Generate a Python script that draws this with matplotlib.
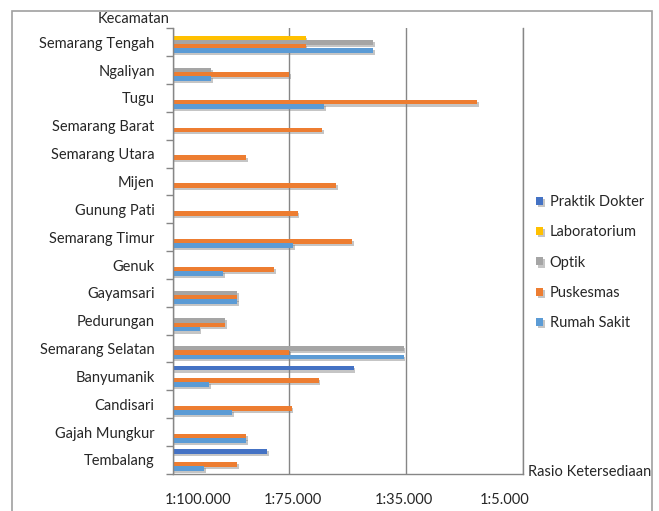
import numpy as np
import matplotlib
matplotlib.use("Agg")
import matplotlib.pyplot as plt
import matplotlib.patheffects as pe
import matplotlib.transforms as mtransforms
from matplotlib.patches import Rectangle

plt.rcParams['font.family'] = ['Lato', 'DejaVu Sans']

# categories, top to bottom
kecamatan = ['Semarang Tengah', 'Ngaliyan', 'Tugu', 'Semarang Barat', 'Semarang Utara',
             'Mijen', 'Gunung Pati', 'Semarang Timur', 'Genuk', 'Gayamsari', 'Pedurungan',
             'Semarang Selatan', 'Banyumanik', 'Candisari', 'Gajah Mungkur', 'Tembalang']

# values in axis units (0 = 1:100.000, 1 = 1:75.000, 2 = 1:35.000, 3 = 1:5.000)
praktik_dokter = [0, 0, 0, 0, 0, 0, 0, 0, 0, 0, 0, 0, 1.55, 0, 0, 0.81]
laboratorium = [1.14, 0, 0, 0, 0, 0, 0, 0, 0, 0, 0, 0, 0, 0, 0, 0]
optik = [1.72, 0.33, 0, 0, 0, 0, 0, 0, 0, 0.55, 0.45, 1.98, 0, 0, 0, 0]
puskesmas = [1.14, 1.00, 2.61, 1.28, 0.63, 1.40, 1.07, 1.54, 0.87, 0.55, 0.45, 1.00,
             1.25, 1.02, 0.63, 0.55]
rumah_sakit = [1.72, 0.33, 1.30, 0, 0, 0, 0, 1.03, 0.43, 0.55, 0.23, 1.98, 0.31,
               0.51, 0.63, 0.27]

tick_labels = ['1:100.000', '1:75.000', '1:35.000', '1:5.000']

series = [('Praktik Dokter', praktik_dokter, '#4472C4'),
          ('Laboratorium', laboratorium, '#FFC000'),
          ('Optik', optik, '#A5A5A5'),
          ('Puskesmas', puskesmas, '#ED7D31'),
          ('Rumah Sakit', rumah_sakit, '#5B9BD5')]

W, H = 659, 511
fig = plt.figure(figsize=(W / 100, H / 100), dpi=100)
ax = fig.add_axes([172.7 / W, 1 - 473.9 / H, (522.7 - 172.7) / W, (473.9 - 28.3) / H])

# outer chart border (open at bottom)
fig.patches.append(Rectangle((12 / W, -0.1), (651.7 - 12) / W, 1.1 - 10.5 / H,
                             transform=fig.transFigure, fill=False,
                             edgecolor='#A0A0A0', linewidth=1.2))

y = np.arange(len(kecamatan))
slot = 0.15
shadow = [pe.SimplePatchShadow(offset=(1.2, -1.5), shadow_rgbFace='#808080', alpha=0.45),
          pe.Normal()]
for k, (name, vals, color) in enumerate(series):
    bars = ax.barh(y + (k - 2) * slot, vals, height=0.17, color=color, label=name)
    for b in bars:
        b.set_path_effects(shadow)

ax.set_xlim(0, 3)
ax.set_ylim(len(kecamatan) - 0.5, -0.5)

ax.set_xticks([0, 1, 2, 3])
ax.set_xticklabels(tick_labels, fontsize=10.5, color='#262626')
ax.tick_params(axis='x', length=0, pad=14)
shifts = [25.8, 3.7, -1.7, -17.7]
for lab, dx in zip(ax.get_xticklabels(), shifts):
    lab.set_transform(lab.get_transform() +
                      mtransforms.ScaledTranslation(dx / 100, 0, fig.dpi_scale_trans))

ax.set_yticks(y)
ax.set_yticklabels(kecamatan, fontsize=10.5, color='#262626')
ax.set_yticks(np.arange(len(kecamatan) + 1) - 0.5, minor=True)
ax.tick_params(axis='y', which='major', length=0, pad=13)
ax.tick_params(axis='y', which='minor', length=5, color='#868686', width=1)

ax.grid(axis='x', color='#868686', linewidth=1)
ax.set_axisbelow(True)
for s in ['left', 'bottom', 'right']:
    ax.spines[s].set_color('#868686')
    ax.spines[s].set_linewidth(1)
ax.spines['top'].set_visible(False)

fig.text(133.8 / W, 1 - 18.7 / H, 'Kecamatan', ha='center', va='center',
         fontsize=10.5, color='#262626')
fig.text(527.7 / W, 1 - 472.3 / H, 'Rasio Ketersediaan', ha='left', va='center',
         fontsize=10.5, color='#262626')

leg = ax.legend(loc='center left', bbox_to_anchor=(536 / W, 1 - 262.5 / H),
                bbox_transform=fig.transFigure, frameon=False, fontsize=10.5,
                handlelength=0.5, handleheight=0.5, handletextpad=0.45,
                labelspacing=1.12, borderpad=0, borderaxespad=0)
for t in leg.get_texts():
    t.set_color('#262626')

fig.savefig('out.png', dpi=100)
